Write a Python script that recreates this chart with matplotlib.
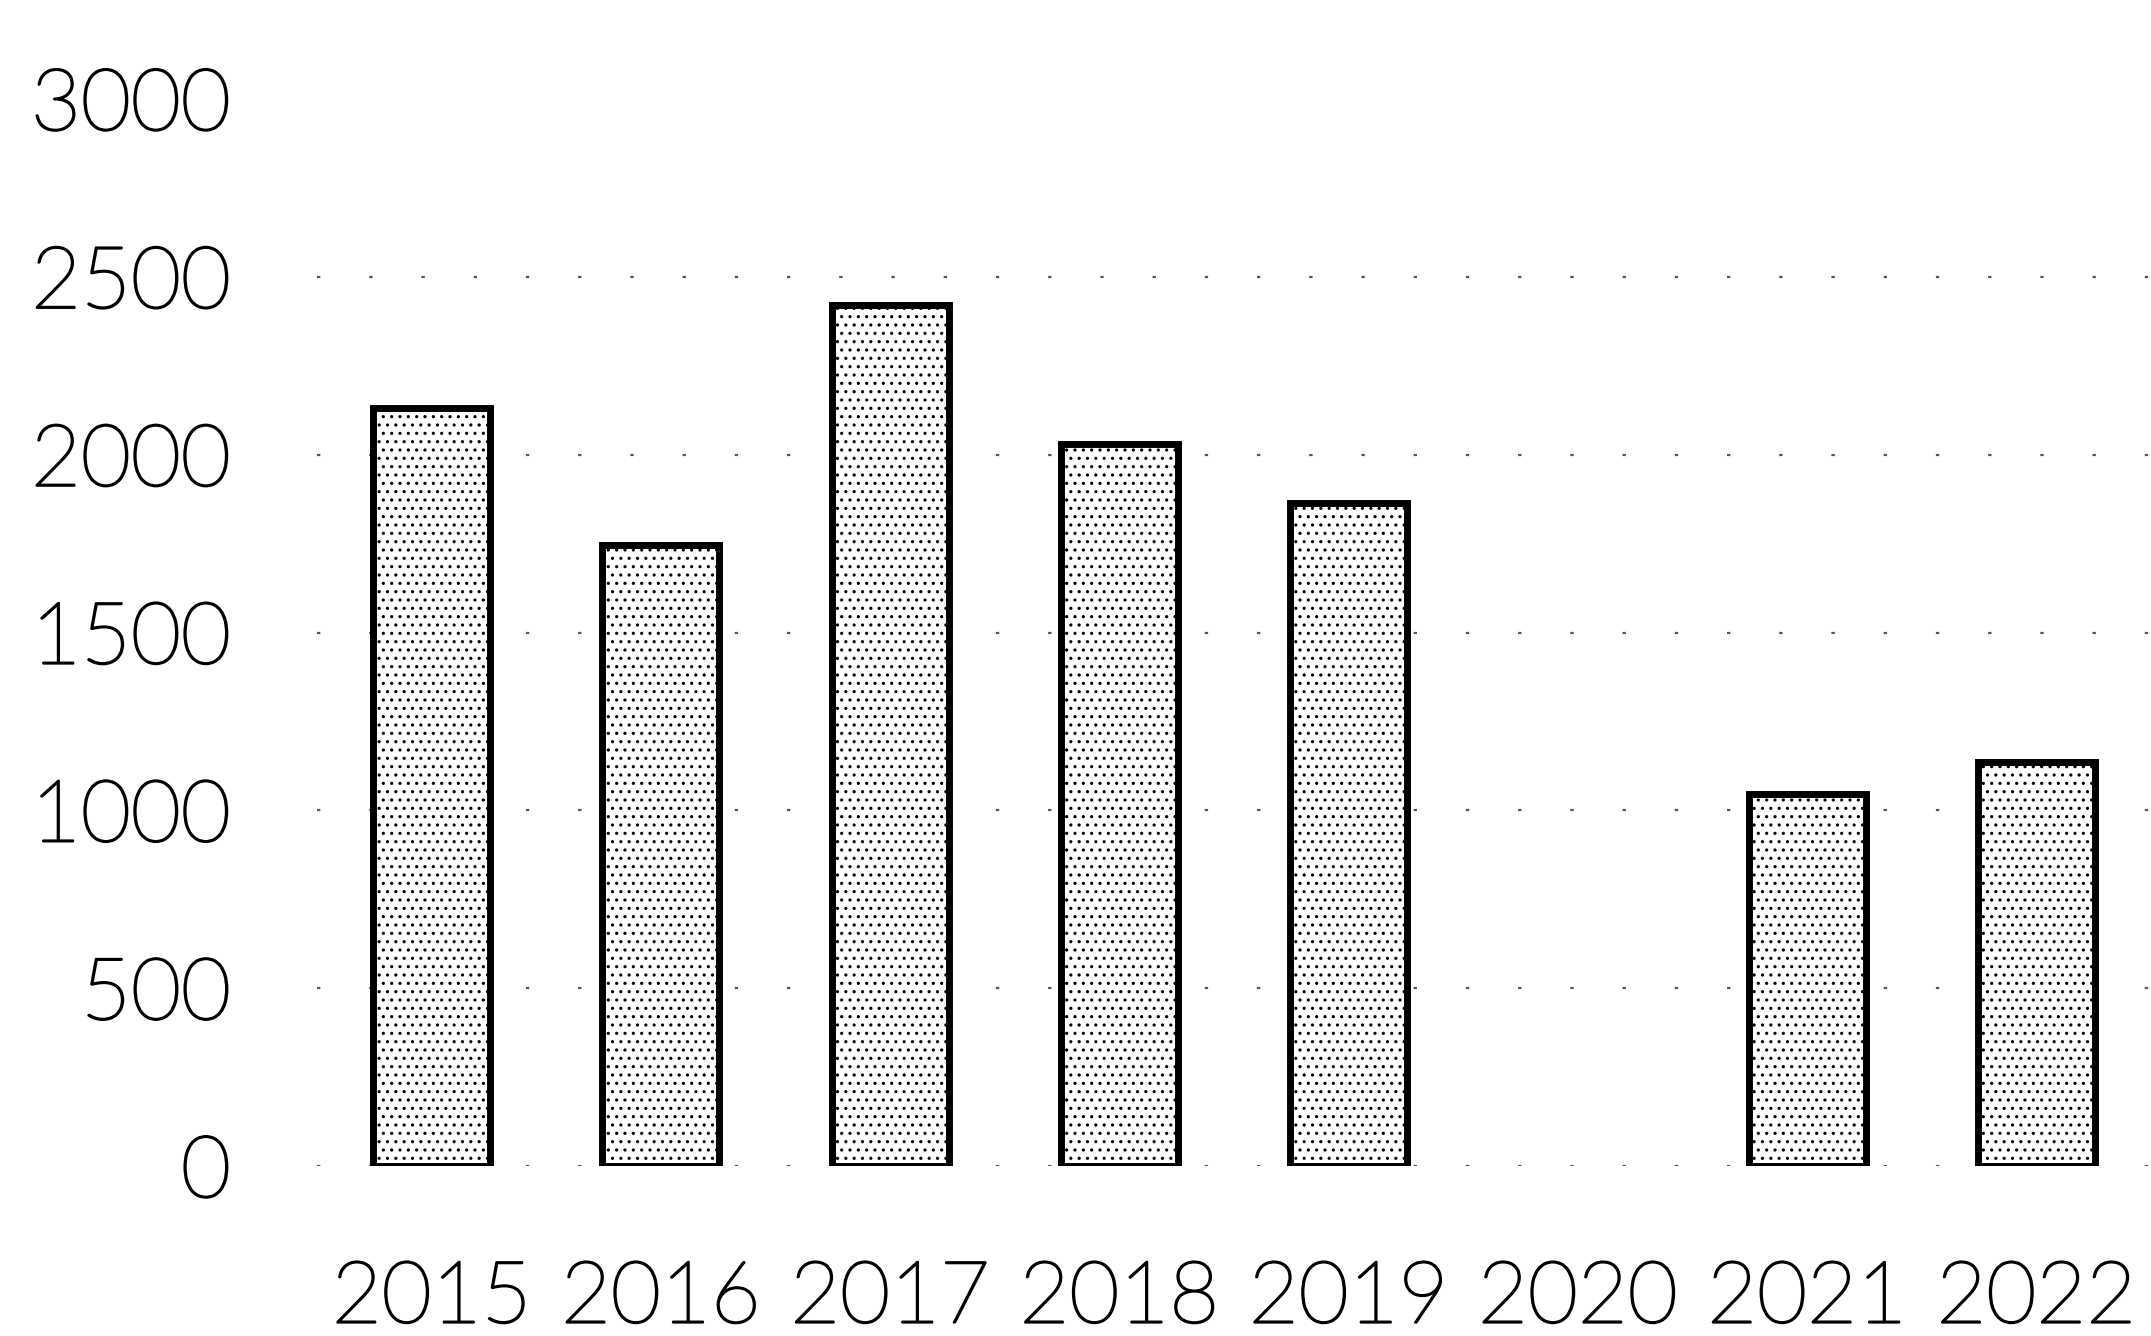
import numpy as np
import matplotlib.pyplot as plt
import matplotlib.patheffects as pe

# values
years = ['2015', '2016', '2017', '2018', '2019', '2020', '2021', '2022']
values = [2130, 1745, 2420, 2030, 1865, 0, 1045, 1135]
yticks = [0, 500, 1000, 1500, 2000, 2500, 3000]

plt.rcParams['font.family'] = ['Lato', 'DejaVu Sans']
plt.rcParams['hatch.linewidth'] = 1.1
plt.rcParams['hatch.color'] = '#ababab'

fig = plt.figure(figsize=(21.51, 13.36), dpi=100)
ax = fig.add_axes([0.1474, 0.1272, 0.8526, 0.7987])

x = np.arange(len(years))
# no outline for an empty year (2020 shows nothing in the original)
edges = ['black' if v > 0 else 'none' for v in values]
ax.bar(x, values, width=0.51, color='white', edgecolor=edges,
       linewidth=5, hatch='..', zorder=3)

ax.set_xlim(-0.5, len(years) - 0.5)
ax.set_ylim(0, 3000)
ax.set_yticks(yticks)
ax.set_yticklabels([str(t) for t in yticks], fontsize=62, fontweight='light')
ax.set_xticks(x)
ax.set_xticklabels(years, fontsize=62, fontweight='light')

# thicken the light face a little, the scan looks darker
thick = [pe.withStroke(linewidth=1.6, foreground='black')]
for lab in ax.get_xticklabels() + ax.get_yticklabels():
    lab.set_path_effects(thick)

# faint dotted gridlines like the scan
ax.grid(axis='y', color='#555555', linestyle=(0, (1.5, 22)), linewidth=1.6, zorder=0)
ax.get_ygridlines()[-1].set_visible(False)
ax.tick_params(axis='both', length=0, colors='black')
ax.tick_params(axis='y', pad=62)
ax.tick_params(axis='x', pad=68)
for s in ax.spines.values():
    s.set_visible(False)

fig.savefig('out.png', dpi=100, facecolor='white')
